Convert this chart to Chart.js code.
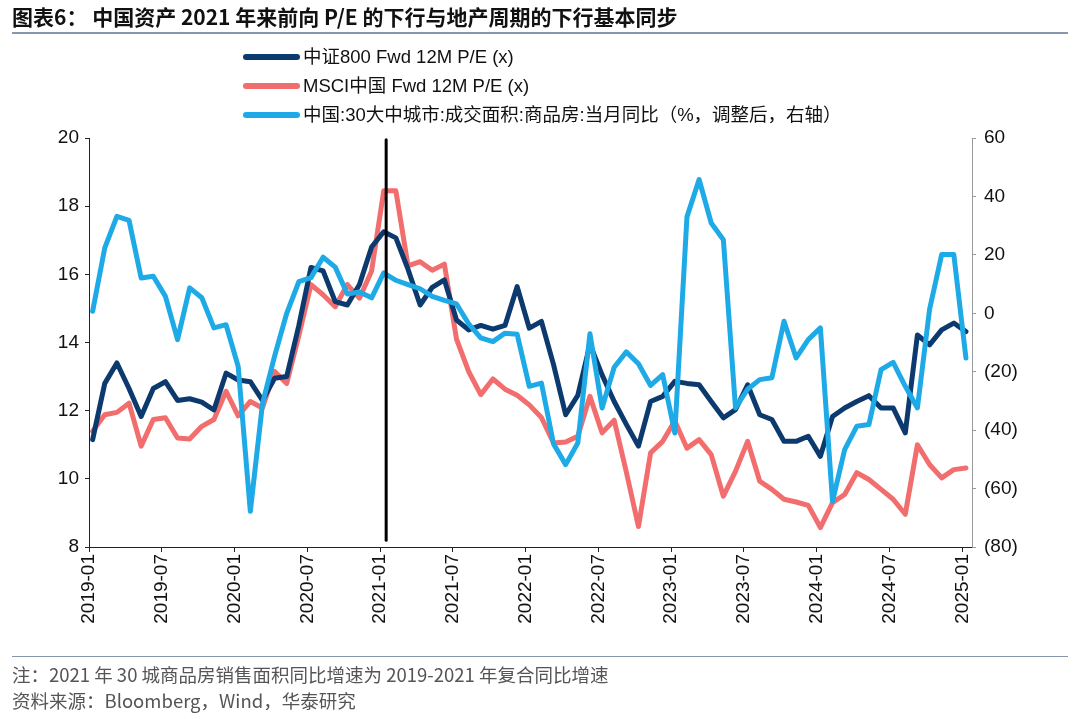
<!DOCTYPE html>
<html>
<head>
<meta charset="utf-8">
<script src="https://cdn.jsdelivr.net/npm/chart.js@4.4.1/dist/chart.umd.min.js"></script>
<style>
  html, body { margin: 0; padding: 0; background: #fff; }
  body { width: 1080px; height: 719px; position: relative; overflow: hidden;
         font-family: "Liberation Sans", "Noto Sans CJK SC", sans-serif; }
  #chart { position: absolute; left: 0; top: 0; }
  .title { position: absolute; left: 12px; top: 1px; font-size: 21px; font-weight: bold; color: #111;
           font-family: "Noto Sans CJK SC", sans-serif; }
  .rule { position: absolute; left: 12px; width: 1056px; height: 2px; background: #8797ab; }
  .legend { position: absolute; left: 243px; top: 42px; font-size: 18.5px; color: #111; }
  .legend div { height: 29px; line-height: 29px; white-space: nowrap; }
  .legend span.sw { display: inline-block; width: 57px; height: 6px; border-radius: 3px;
                    vertical-align: middle; margin-right: 3px; margin-top: -3px; }
  .note { position: absolute; left: 12px; font-size: 18.5px; color: #555;
          font-family: "Noto Sans CJK SC", sans-serif; }
</style>
</head>
<body>
<canvas id="chart" width="1080" height="719"></canvas>
<div class="title">图表6： 中国资产 2021 年来前向 P/E 的下行与地产周期的下行基本同步</div>
<div class="rule" style="top:32px"></div>
<div class="legend" id="legend"></div>
<div class="rule" style="top:656px; height:1px"></div>
<div class="note" style="top:661px">注：2021 年 30 城商品房销售面积同比增速为 2019-2021 年复合同比增速</div>
<div class="note" style="top:687px">资料来源：Bloomberg，Wind，华泰研究</div>
<script>
// 月度数据：2019-01 ~ 2025-01
const xLabels = ['2019-01','2019-07','2020-01','2020-07','2021-01','2021-07','2022-01',
                 '2022-07','2023-01','2023-07','2024-01','2024-07','2025-01'];

const csi800 = [11.15,12.8,13.4,12.65,11.83,12.65,12.85,12.3,12.35,12.25,12.02,13.1,
  12.9,12.85,12.3,12.95,13.0,14.5,16.2,16.1,15.2,15.1,15.7,16.8,
  17.25,17.07,16.15,15.1,15.62,15.84,14.66,14.37,14.5,14.39,14.5,15.64,
  14.42,14.62,13.35,11.88,12.45,13.95,13.05,12.27,11.6,10.96,12.27,12.42,
  12.86,12.8,12.76,12.27,11.79,12.03,12.76,11.88,11.74,11.1,11.1,11.25,
  10.66,11.83,12.08,12.27,12.44,12.08,12.08,11.35,14.22,13.93,14.37,14.57,
  14.32];

const msciChina = [11.4,11.88,11.95,12.22,10.96,11.74,11.79,11.2,11.17,11.54,11.74,12.57,
  11.85,12.27,12.08,13.15,12.8,14.2,15.7,15.4,15.05,15.7,15.3,16.1,
  18.45,18.45,16.25,16.37,16.12,16.3,14.1,13.15,12.47,12.93,12.63,12.45,
  12.17,11.8,11.05,11.08,11.25,12.42,11.35,11.72,10.2,8.6,10.76,11.1,
  11.7,10.9,11.15,10.71,9.49,10.22,11.1,9.93,9.69,9.4,9.32,9.22,
  8.57,9.3,9.54,10.18,9.98,9.69,9.4,8.96,11.0,10.42,10.03,10.27,
  10.32];

const area30 = [0.7,22.4,33.2,31.8,12.1,12.7,5.8,-9,8.7,5.3,-5,-3.9,
  -18.2,-67.8,-31,-14.7,0,10.8,12.2,19.2,15.8,6.6,7.3,5.3,
  13.8,11.3,9.8,8.4,5.8,4.4,3.2,-3.6,-8.4,-9.7,-6.8,-7.2,
  -25,-23.9,-44.7,-51.8,-44.4,-7,-32.4,-18.5,-13.2,-17.3,-24.7,-21,
  -41,33,45.8,30.9,25.2,-32.4,-26,-22.7,-22.1,-2.7,-15.3,-9,
  -5,-64.4,-46.7,-38.7,-38.1,-19.3,-16.8,-25,-32.4,1.3,20.1,20.1,
  -15.3];

// 2021-01 分界竖线
const markerX = 24.2;
const markerY = [8.2, 19.95];

const seriesNames = ['中证800 Fwd 12M P/E (x)', 'MSCI中国 Fwd 12M P/E (x)',
  '中国:30大中城市:成交面积:商品房:当月同比（%，调整后，右轴）'];
const colors = ['#0d3a6e', '#f26d6d', '#1eaae6'];

const shift = 0.3;
const toPts = arr => arr.map((v, i) => ({ x: i + shift, y: v }));

document.getElementById('legend').innerHTML = seriesNames.map((n, i) =>
  `<div><span class="sw" style="background:${colors[i]}"></span>${n}</div>`).join('');

const tickFont = { family: '"Liberation Sans", Arial, sans-serif', size: 19 };

new Chart(document.getElementById('chart'), {
  type: 'line',
  data: {
    datasets: [
      { label: 'marker', data: markerY.map(y => ({ x: markerX + shift, y })),
        borderColor: '#000', borderWidth: 3, pointRadius: 0, yAxisID: 'y', order: 0 },
      { label: seriesNames[2], data: toPts(area30), borderColor: colors[2], borderWidth: 5,
        pointRadius: 0, yAxisID: 'y1', order: 1 },
      { label: seriesNames[0], data: toPts(csi800), borderColor: colors[0], borderWidth: 5,
        pointRadius: 0, yAxisID: 'y', order: 2 },
      { label: seriesNames[1], data: toPts(msciChina), borderColor: colors[1], borderWidth: 5,
        pointRadius: 0, yAxisID: 'y', order: 3 }
    ]
  },
  options: {
    responsive: false,
    animation: false,
    devicePixelRatio: 1,
    layout: { padding: { left: 0, right: 0, top: 138, bottom: 0 } },
    plugins: { legend: { display: false }, tooltip: { enabled: false } },
    elements: { line: { tension: 0, borderJoinStyle: 'round', borderCapStyle: 'round' } },
    scales: {
      x: {
        type: 'linear', min: 0, max: 72.8,
        afterBuildTicks: s => { s.ticks = xLabels.map((_, i) => ({ value: i * 6 })); },
        afterFit: s => { s.height = 719 - 547; },
        ticks: { minRotation: 90, maxRotation: 90, autoSkip: false, color: '#111', font: tickFont,
                 padding: 2, callback: v => xLabels[Math.round(v / 6)] },
        grid: { drawOnChartArea: false, drawTicks: true, tickLength: 5, color: '#222' },
        border: { display: true, color: '#222', width: 1 }
      },
      y: {
        position: 'left', min: 8, max: 20,
        afterFit: s => { s.width = 89; },
        ticks: { stepSize: 2, color: '#111', font: tickFont, padding: 6 },
        grid: { drawOnChartArea: false, drawTicks: true, tickLength: 4, color: '#222' },
        border: { display: true, color: '#222', width: 1 }
      },
      y1: {
        position: 'right', min: -80, max: 60,
        afterFit: s => { s.width = 1080 - 972; },
        ticks: { stepSize: 20, color: '#111', font: tickFont, padding: 8,
                 callback: v => v < 0 ? '(' + (-v) + ')' : v },
        grid: { drawOnChartArea: false, drawTicks: true, tickLength: 4, color: '#999' },
        border: { display: true, color: '#999', width: 1 }
      }
    }
  }
});
</script>
</body>
</html>
